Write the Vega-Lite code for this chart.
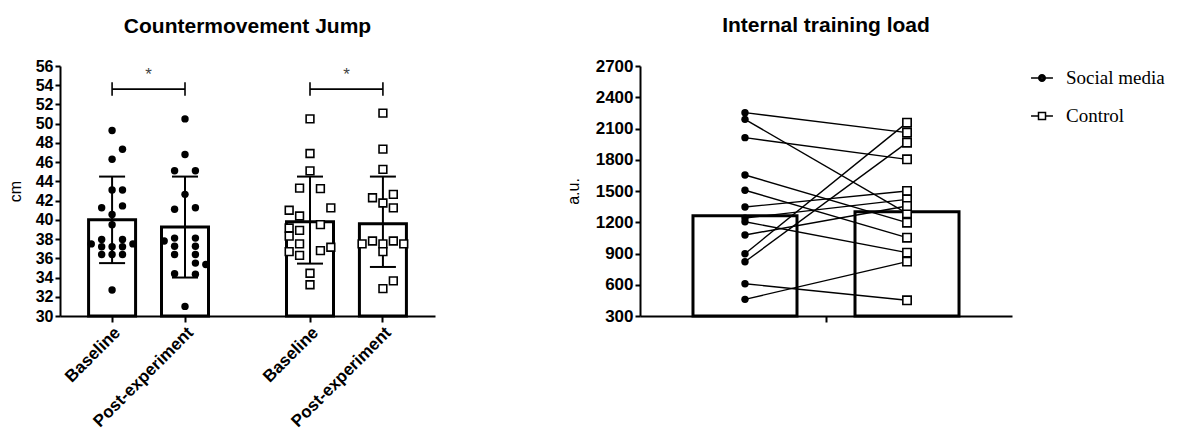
{
  "$schema": "https://vega.github.io/schema/vega-lite/v6.json",
  "padding": {"left": 7, "top": 15, "right": 5, "bottom": 0},
  "spacing": 130,
  "config": {
    "view": {"stroke": null},
    "font": "Liberation Sans",
    "title": {"fontSize": 21, "fontWeight": "bold", "font": "Liberation Sans", "offset": 21, "color": "black", "anchor": "middle"},
    "axis": {
      "grid": false, "domainColor": "black", "domainWidth": 2, "tickColor": "black", "tickWidth": 2, "tickSize": 5,
      "labelColor": "black", "labelFontSize": 16, "labelFontWeight": "bold", "labelPadding": 2,
      "titleColor": "black", "titleFontSize": 16, "titleFontWeight": "normal"
    },
    "legend": {"labelFont": "Liberation Serif", "labelFontSize": 19, "labelColor": "black", "symbolSize": 480, "rowPadding": 16, "labelOffset": 12, "offset": 18}
  },
  "datasets": {
    "cmjbar": [
      {"grp": "Social media", "time": "Baseline", "slot": "SMB0", "cm": 40.0, "lo": 35.5, "hi": 44.5},
      {"grp": "Social media", "time": "Post-experiment", "slot": "SMP0", "cm": 39.25, "lo": 34.0, "hi": 44.5},
      {"grp": "Control", "time": "Baseline", "slot": "CB0", "cm": 39.8, "lo": 35.45, "hi": 44.5},
      {"grp": "Control", "time": "Post-experiment", "slot": "CP0", "cm": 39.6, "lo": 35.1, "hi": 44.5}
    ],
    "cmj": [
      {"grp": "Social media", "time": "Baseline", "slot": "SMB0", "cm": 49.3},
      {"grp": "Social media", "time": "Baseline", "slot": "SMB1", "cm": 47.35},
      {"grp": "Social media", "time": "Baseline", "slot": "SMB0", "cm": 46.3},
      {"grp": "Social media", "time": "Baseline", "slot": "SMB0", "cm": 43.1},
      {"grp": "Social media", "time": "Baseline", "slot": "SMB1", "cm": 43.1},
      {"grp": "Social media", "time": "Baseline", "slot": "SMB-1", "cm": 41.25},
      {"grp": "Social media", "time": "Baseline", "slot": "SMB1", "cm": 41.45},
      {"grp": "Social media", "time": "Baseline", "slot": "SMB0", "cm": 40.55},
      {"grp": "Social media", "time": "Baseline", "slot": "SMB0", "cm": 39.5},
      {"grp": "Social media", "time": "Baseline", "slot": "SMB-1", "cm": 37.95},
      {"grp": "Social media", "time": "Baseline", "slot": "SMB1", "cm": 37.95},
      {"grp": "Social media", "time": "Baseline", "slot": "SMB-2", "cm": 37.5},
      {"grp": "Social media", "time": "Baseline", "slot": "SMB2", "cm": 37.5},
      {"grp": "Social media", "time": "Baseline", "slot": "SMB-1", "cm": 37.2},
      {"grp": "Social media", "time": "Baseline", "slot": "SMB0", "cm": 37.2},
      {"grp": "Social media", "time": "Baseline", "slot": "SMB1", "cm": 37.2},
      {"grp": "Social media", "time": "Baseline", "slot": "SMB-1", "cm": 36.4},
      {"grp": "Social media", "time": "Baseline", "slot": "SMB0", "cm": 36.4},
      {"grp": "Social media", "time": "Baseline", "slot": "SMB1", "cm": 36.4},
      {"grp": "Social media", "time": "Baseline", "slot": "SMB0", "cm": 32.7},
      {"grp": "Social media", "time": "Post-experiment", "slot": "SMP0", "cm": 50.5},
      {"grp": "Social media", "time": "Post-experiment", "slot": "SMP0", "cm": 46.8},
      {"grp": "Social media", "time": "Post-experiment", "slot": "SMP-1", "cm": 45.1},
      {"grp": "Social media", "time": "Post-experiment", "slot": "SMP1", "cm": 45.1},
      {"grp": "Social media", "time": "Post-experiment", "slot": "SMP0", "cm": 42.65},
      {"grp": "Social media", "time": "Post-experiment", "slot": "SMP-1", "cm": 41.1},
      {"grp": "Social media", "time": "Post-experiment", "slot": "SMP1", "cm": 41.25},
      {"grp": "Social media", "time": "Post-experiment", "slot": "SMP-2", "cm": 37.8},
      {"grp": "Social media", "time": "Post-experiment", "slot": "SMP-1", "cm": 38.1},
      {"grp": "Social media", "time": "Post-experiment", "slot": "SMP1", "cm": 38.1},
      {"grp": "Social media", "time": "Post-experiment", "slot": "SMP-1", "cm": 37.25},
      {"grp": "Social media", "time": "Post-experiment", "slot": "SMP1", "cm": 37.25},
      {"grp": "Social media", "time": "Post-experiment", "slot": "SMP-1", "cm": 36.4},
      {"grp": "Social media", "time": "Post-experiment", "slot": "SMP1", "cm": 36.4},
      {"grp": "Social media", "time": "Post-experiment", "slot": "SMP1", "cm": 35.5},
      {"grp": "Social media", "time": "Post-experiment", "slot": "SMP2", "cm": 35.35},
      {"grp": "Social media", "time": "Post-experiment", "slot": "SMP-1", "cm": 34.4},
      {"grp": "Social media", "time": "Post-experiment", "slot": "SMP1", "cm": 34.35},
      {"grp": "Social media", "time": "Post-experiment", "slot": "SMP0", "cm": 31.0},
      {"grp": "Control", "time": "Baseline", "slot": "CB0", "cm": 50.5},
      {"grp": "Control", "time": "Baseline", "slot": "CB0", "cm": 46.9},
      {"grp": "Control", "time": "Baseline", "slot": "CB0", "cm": 45.1},
      {"grp": "Control", "time": "Baseline", "slot": "CB-1", "cm": 43.3},
      {"grp": "Control", "time": "Baseline", "slot": "CB1", "cm": 43.25},
      {"grp": "Control", "time": "Baseline", "slot": "CB-2", "cm": 41.0},
      {"grp": "Control", "time": "Baseline", "slot": "CB2", "cm": 41.25},
      {"grp": "Control", "time": "Baseline", "slot": "CB-1", "cm": 40.4},
      {"grp": "Control", "time": "Baseline", "slot": "CB1", "cm": 39.5},
      {"grp": "Control", "time": "Baseline", "slot": "CB-2", "cm": 39.15},
      {"grp": "Control", "time": "Baseline", "slot": "CB-1", "cm": 38.9},
      {"grp": "Control", "time": "Baseline", "slot": "CB-2", "cm": 38.3},
      {"grp": "Control", "time": "Baseline", "slot": "CB-1", "cm": 37.5},
      {"grp": "Control", "time": "Baseline", "slot": "CB2", "cm": 37.15},
      {"grp": "Control", "time": "Baseline", "slot": "CB1", "cm": 36.8},
      {"grp": "Control", "time": "Baseline", "slot": "CB-2", "cm": 36.7},
      {"grp": "Control", "time": "Baseline", "slot": "CB-1", "cm": 36.3},
      {"grp": "Control", "time": "Baseline", "slot": "CB0", "cm": 34.45},
      {"grp": "Control", "time": "Baseline", "slot": "CB0", "cm": 33.25},
      {"grp": "Control", "time": "Post-experiment", "slot": "CP0", "cm": 51.1},
      {"grp": "Control", "time": "Post-experiment", "slot": "CP0", "cm": 47.35},
      {"grp": "Control", "time": "Post-experiment", "slot": "CP0", "cm": 45.25},
      {"grp": "Control", "time": "Post-experiment", "slot": "CP-1", "cm": 42.3},
      {"grp": "Control", "time": "Post-experiment", "slot": "CP1", "cm": 42.65},
      {"grp": "Control", "time": "Post-experiment", "slot": "CP0", "cm": 41.75},
      {"grp": "Control", "time": "Post-experiment", "slot": "CP1", "cm": 41.25},
      {"grp": "Control", "time": "Post-experiment", "slot": "CP-2", "cm": 37.5},
      {"grp": "Control", "time": "Post-experiment", "slot": "CP-1", "cm": 37.8},
      {"grp": "Control", "time": "Post-experiment", "slot": "CP0", "cm": 37.5},
      {"grp": "Control", "time": "Post-experiment", "slot": "CP1", "cm": 37.8},
      {"grp": "Control", "time": "Post-experiment", "slot": "CP2", "cm": 37.5},
      {"grp": "Control", "time": "Post-experiment", "slot": "CP0", "cm": 36.7},
      {"grp": "Control", "time": "Post-experiment", "slot": "CP1", "cm": 33.65},
      {"grp": "Control", "time": "Post-experiment", "slot": "CP0", "cm": 32.85}
    ],
    "brk": [
      {"grp": "Social media", "from": "SMB0", "to": "SMP0", "mid": "s3", "sig": "*"},
      {"grp": "Control", "from": "CB0", "to": "CP0", "mid": "s12", "sig": "*"}
    ],
    "itlbar": [
      {"measure": "Internal training load", "grp": "Social media", "au": 1262},
      {"measure": "Internal training load", "grp": "Control", "au": 1300}
    ],
    "itl": [
      {"measure": "Internal training load", "subj": 1, "grp": "Social media", "au": 2252},
      {"measure": "Internal training load", "subj": 1, "grp": "Control", "au": 2060},
      {"measure": "Internal training load", "subj": 2, "grp": "Social media", "au": 2188},
      {"measure": "Internal training load", "subj": 2, "grp": "Control", "au": 1286},
      {"measure": "Internal training load", "subj": 3, "grp": "Social media", "au": 2012},
      {"measure": "Internal training load", "subj": 3, "grp": "Control", "au": 1804},
      {"measure": "Internal training load", "subj": 4, "grp": "Social media", "au": 1654},
      {"measure": "Internal training load", "subj": 4, "grp": "Control", "au": 1196},
      {"measure": "Internal training load", "subj": 5, "grp": "Social media", "au": 1507},
      {"measure": "Internal training load", "subj": 5, "grp": "Control", "au": 1052},
      {"measure": "Internal training load", "subj": 6, "grp": "Social media", "au": 1346},
      {"measure": "Internal training load", "subj": 6, "grp": "Control", "au": 1500},
      {"measure": "Internal training load", "subj": 7, "grp": "Social media", "au": 1240},
      {"measure": "Internal training load", "subj": 7, "grp": "Control", "au": 1420},
      {"measure": "Internal training load", "subj": 8, "grp": "Social media", "au": 1205},
      {"measure": "Internal training load", "subj": 8, "grp": "Control", "au": 908},
      {"measure": "Internal training load", "subj": 9, "grp": "Social media", "au": 1078},
      {"measure": "Internal training load", "subj": 9, "grp": "Control", "au": 1356},
      {"measure": "Internal training load", "subj": 10, "grp": "Social media", "au": 898},
      {"measure": "Internal training load", "subj": 10, "grp": "Control", "au": 2156},
      {"measure": "Internal training load", "subj": 11, "grp": "Social media", "au": 821},
      {"measure": "Internal training load", "subj": 11, "grp": "Control", "au": 1964},
      {"measure": "Internal training load", "subj": 12, "grp": "Social media", "au": 610},
      {"measure": "Internal training load", "subj": 12, "grp": "Control", "au": 451},
      {"measure": "Internal training load", "subj": 13, "grp": "Social media", "au": 460},
      {"measure": "Internal training load", "subj": 13, "grp": "Control", "au": 822}
    ]
  },
  "hconcat": [
    {
      "width": 375,
      "height": 250,
      "title": {"text": "Countermovement Jump"},
      "encoding": {
        "x": {
          "field": "slot", "type": "nominal", "title": null,
          "scale": {"domain": ["s0","s1","SMB-2","SMB-1","SMB0","SMB1","SMB2","s2","s3","SMP-2","SMP-1","SMP0","SMP1","SMP2","s4","s5","s6","s7","s8","s9","s10","CB-2","CB-1","CB0","CB1","CB2","s11","s12","CP-2","CP-1","CP0","CP1","CP2","s13","s14"], "paddingInner": 0, "paddingOuter": 0.5},
          "axis": {"values": ["SMB0","SMP0","CB0","CP0"], "labelExpr": "indexof(datum.value, 'B0') >= 0 ? 'Baseline' : 'Post-experiment'", "labelAngle": -45, "labelFontSize": 17, "tickSize": 6}
        }
      },
      "layer": [
        {"data": {"name": "cmjbar"}, "mark": {"type": "bar", "width": 47, "fill": "white", "stroke": "black", "strokeWidth": 3},
         "encoding": {
           "y": {"field": "cm", "type": "quantitative", "title": "cm",
                 "scale": {"domain": [30, 56], "nice": false, "zero": false},
                 "axis": {"values": [30,32,34,36,38,40,42,44,46,48,50,52,54,56], "title": "cm", "titlePadding": 12}},
           "y2": {"datum": 30}}},
        {"data": {"name": "cmjbar"}, "mark": {"type": "rule", "strokeWidth": 2, "color": "black"},
         "encoding": {"y": {"field": "lo", "type": "quantitative", "title": "cm", "axis": {"values": [30,32,34,36,38,40,42,44,46,48,50,52,54,56], "title": "cm", "titlePadding": 12}}, "y2": {"field": "hi"}}},
        {"data": {"name": "cmjbar"}, "mark": {"type": "tick", "size": 26, "thickness": 2, "color": "black", "opacity": 1},
         "encoding": {"y": {"field": "lo", "type": "quantitative", "title": "cm", "axis": {"values": [30,32,34,36,38,40,42,44,46,48,50,52,54,56], "title": "cm", "titlePadding": 12}}}},
        {"data": {"name": "cmjbar"}, "mark": {"type": "tick", "size": 26, "thickness": 2, "color": "black", "opacity": 1},
         "encoding": {"y": {"field": "hi", "type": "quantitative", "title": "cm", "axis": {"values": [30,32,34,36,38,40,42,44,46,48,50,52,54,56], "title": "cm", "titlePadding": 12}}}},
        {"data": {"name": "cmj"}, "transform": [{"filter": "datum.grp == 'Social media'"}],
         "mark": {"type": "point", "shape": "circle", "filled": true, "color": "black", "size": 55, "opacity": 1},
         "encoding": {"y": {"field": "cm", "type": "quantitative", "title": "cm", "axis": {"values": [30,32,34,36,38,40,42,44,46,48,50,52,54,56], "title": "cm", "titlePadding": 12}}}},
        {"data": {"name": "cmj"}, "transform": [{"filter": "datum.grp == 'Control'"}],
         "mark": {"type": "point", "shape": "square", "filled": true, "fill": "white", "stroke": "black", "strokeWidth": 1.6, "size": 60, "opacity": 1},
         "encoding": {"y": {"field": "cm", "type": "quantitative", "title": "cm", "axis": {"values": [30,32,34,36,38,40,42,44,46,48,50,52,54,56], "title": "cm", "titlePadding": 12}}}},
        {"data": {"name": "brk"}, "mark": {"type": "rule", "strokeWidth": 1.6, "color": "black"},
         "encoding": {"x": {"field": "from", "type": "nominal", "title": null}, "x2": {"field": "to"},
                      "y": {"datum": 53.6, "type": "quantitative", "axis": {"values": [30,32,34,36,38,40,42,44,46,48,50,52,54,56], "title": "cm", "titlePadding": 12}}}},
        {"data": {"name": "brk"}, "mark": {"type": "rule", "strokeWidth": 1.6, "color": "black"},
         "encoding": {"x": {"field": "from", "type": "nominal", "title": null},
                      "y": {"datum": 52.9, "type": "quantitative", "axis": {"values": [30,32,34,36,38,40,42,44,46,48,50,52,54,56], "title": "cm", "titlePadding": 12}}, "y2": {"datum": 54.3}}},
        {"data": {"name": "brk"}, "mark": {"type": "rule", "strokeWidth": 1.6, "color": "black"},
         "encoding": {"x": {"field": "to", "type": "nominal", "title": null},
                      "y": {"datum": 52.9, "type": "quantitative", "axis": {"values": [30,32,34,36,38,40,42,44,46,48,50,52,54,56], "title": "cm", "titlePadding": 12}}, "y2": {"datum": 54.3}}},
        {"data": {"name": "brk"}, "mark": {"type": "text", "fontSize": 17, "color": "#444", "baseline": "middle", "align": "center"},
         "encoding": {"x": {"field": "mid", "type": "nominal", "title": null, "bandPosition": 0},
                      "y": {"datum": 55.1, "type": "quantitative", "axis": {"values": [30,32,34,36,38,40,42,44,46,48,50,52,54,56], "title": "cm", "titlePadding": 12}}, "text": {"field": "sig"}}}
      ]
    },
    {
      "width": 372,
      "height": 250,
      "title": {"text": "Internal training load"},
      "encoding": {
        "x": {"field": "measure", "type": "nominal", "title": null, "scale": {"paddingInner": 0, "paddingOuter": 0}, "axis": {"labels": false, "tickSize": 6}},
        "xOffset": {"field": "grp", "type": "nominal", "scale": {"domain": ["Social media", "Control"], "paddingInner": 0.358, "paddingOuter": 0.327}}
      },
      "layer": [
        {"data": {"name": "itlbar"}, "mark": {"type": "bar", "fill": "white", "stroke": "black", "strokeWidth": 3},
         "encoding": {
           "y": {"field": "au", "type": "quantitative", "title": "a.u.", "scale": {"domain": [300, 2700], "nice": false, "zero": false},
                 "axis": {"values": [300,600,900,1200,1500,1800,2100,2400,2700], "format": "d", "labelFontSize": 17, "title": "a.u.", "titlePadding": 14}},
           "y2": {"datum": 300}}},
        {"data": {"name": "itl"}, "mark": {"type": "line", "color": "black", "strokeWidth": 1.4},
         "encoding": {"y": {"field": "au", "type": "quantitative", "title": "a.u.", "axis": {"values": [300,600,900,1200,1500,1800,2100,2400,2700], "format": "d", "labelFontSize": 17, "title": "a.u.", "titlePadding": 14}}, "detail": {"field": "subj", "type": "nominal"}}},
        {"data": {"name": "itl"}, "transform": [{"filter": "datum.grp == 'Social media'"}],
         "mark": {"type": "point", "shape": "circle", "filled": true, "color": "black", "size": 55, "opacity": 1},
         "encoding": {"y": {"field": "au", "type": "quantitative", "title": "a.u.", "axis": {"values": [300,600,900,1200,1500,1800,2100,2400,2700], "format": "d", "labelFontSize": 17, "title": "a.u.", "titlePadding": 14}}}},
        {"data": {"name": "itl"}, "transform": [{"filter": "datum.grp == 'Control'"}],
         "mark": {"type": "point", "shape": "square", "filled": true, "fill": "white", "stroke": "black", "strokeWidth": 1.6, "size": 70, "opacity": 1},
         "encoding": {"y": {"field": "au", "type": "quantitative", "title": "a.u.", "axis": {"values": [300,600,900,1200,1500,1800,2100,2400,2700], "format": "d", "labelFontSize": 17, "title": "a.u.", "titlePadding": 14}}}},
        {"data": {"name": "itl"}, "transform": [{"filter": "false"}],
         "mark": {"type": "point", "filled": false, "color": "black", "strokeWidth": 1.5, "opacity": 1, "size": 480},
         "encoding": {
           "y": {"field": "au", "type": "quantitative", "title": "a.u.", "axis": {"values": [300,600,900,1200,1500,1800,2100,2400,2700], "format": "d", "labelFontSize": 17, "title": "a.u.", "titlePadding": 14}},
           "shape": {"field": "grp", "type": "nominal", "title": null,
                     "scale": {"domain": ["Social media", "Control"], "range": ["M-1,0H-0.3M0.3,0H1M-0.3,0A0.3,0.3 0 1,0 0.3,0A0.3,0.3 0 1,0 -0.3,0M-0.2,0A0.2,0.2 0 1,0 0.2,0A0.2,0.2 0 1,0 -0.2,0M-0.1,0A0.1,0.1 0 1,0 0.1,0A0.1,0.1 0 1,0 -0.1,0", "M-1,0H-0.32M0.32,0H1M-0.32,-0.32H0.32V0.32H-0.32Z"]}}
         }}
      ]
    }
  ]
}
